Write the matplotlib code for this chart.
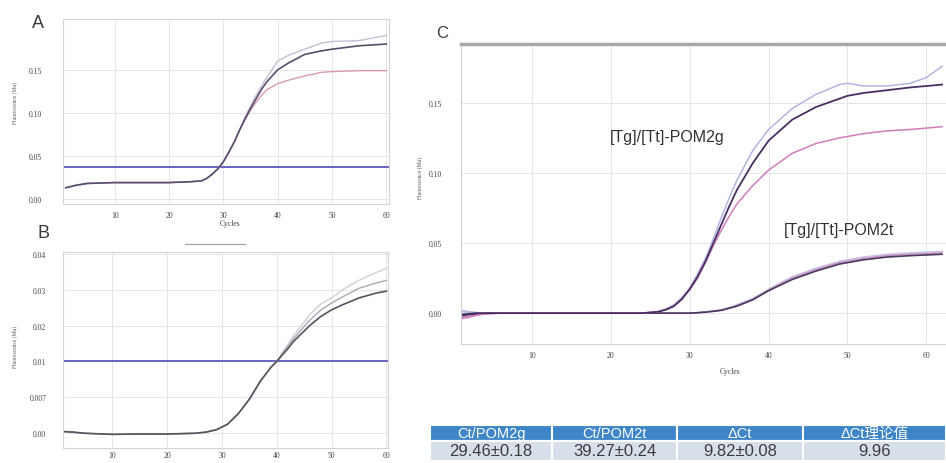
import matplotlib
matplotlib.use('Agg')
import matplotlib.pyplot as plt
from matplotlib.lines import Line2D

# ---- panel A : [Tg]/[Tt]-POM2g
a_cycles = [1, 3, 5, 10, 15, 20, 24, 26, 27, 28, 29, 30, 31, 32, 33, 34, 35, 36, 37, 38,
            40, 42, 45, 48, 50, 55, 60]
a_dark = [0.013, 0.016, 0.018, 0.019, 0.019, 0.019, 0.020, 0.021, 0.024, 0.029, 0.035,
          0.043, 0.054, 0.066, 0.080, 0.093, 0.105, 0.116, 0.127, 0.136,
          0.150, 0.158, 0.168, 0.172, 0.174, 0.178, 0.180]
a_light = [0.013, 0.016, 0.018, 0.019, 0.019, 0.019, 0.020, 0.021, 0.024, 0.029, 0.035,
           0.043, 0.054, 0.066, 0.080, 0.095, 0.108, 0.120, 0.131, 0.141,
           0.160, 0.167, 0.174, 0.181, 0.183, 0.184, 0.190]
a_pink = [0.013, 0.016, 0.018, 0.019, 0.019, 0.019, 0.020, 0.021, 0.024, 0.029, 0.035,
          0.043, 0.054, 0.066, 0.080, 0.092, 0.103, 0.112, 0.120, 0.127,
          0.134, 0.138, 0.143, 0.147, 0.148, 0.149, 0.149]
a_threshold = 0.037
a_yticks = [0.00, 0.05, 0.10, 0.15]
a_ylabels = ['0.00', '0.05', '0.10', '0.15']

# ---- panel B : [Tg]/[Tt]-POM2t
b_cycles = [1, 3, 5, 10, 15, 20, 25, 27, 29, 31, 33, 35, 36, 37, 38, 39, 40, 41, 42, 43,
            44, 46, 48, 50, 52, 55, 58, 60]
b_dark = [0.0005, 0.0003, 0.0, -0.0003, -0.0002, -0.0002, 0.0, 0.0003, 0.0010, 0.0025,
          0.0055, 0.0095, 0.0120, 0.0145, 0.0165, 0.0185, 0.0200, 0.0218, 0.0235, 0.0255,
          0.0270, 0.0300, 0.0325, 0.0344, 0.0358, 0.0377, 0.0390, 0.0396]
b_mid = [0.0005, 0.0003, 0.0, -0.0003, -0.0002, -0.0002, 0.0, 0.0003, 0.0010, 0.0025,
         0.0055, 0.0095, 0.0120, 0.0145, 0.0165, 0.0185, 0.0200, 0.0222, 0.0242, 0.0262,
         0.0280, 0.0315, 0.0343, 0.0363, 0.0380, 0.0404, 0.0418, 0.0426]
b_light = [0.0005, 0.0003, 0.0, -0.0003, -0.0002, -0.0002, 0.0, 0.0003, 0.0010, 0.0025,
           0.0055, 0.0095, 0.0120, 0.0145, 0.0165, 0.0185, 0.0200, 0.0225, 0.0247, 0.0270,
           0.0290, 0.0330, 0.0360, 0.0377, 0.0400, 0.0426, 0.0447, 0.0459]
b_threshold = 0.02
b_yticks = [0.00, 0.01, 0.02, 0.03, 0.04, 0.05]
b_ylabels = ['0.00', '0.007', '0.01', '0.02', '0.03', '0.04']

# ---- panel C : both primer sets
c_cycles = [1, 2, 3, 4, 6, 10, 15, 20, 24, 26, 27, 28, 29, 30, 31, 32, 33, 34, 35, 36,
            38, 40, 43, 46, 49, 50, 52, 55, 58, 60, 62]
g_dark = [-0.001, -0.0005, 0.0, 0.0, 0.0, 0.0, 0.0, 0.0, 0.0, 0.001, 0.0025, 0.005, 0.010,
          0.017, 0.026, 0.037, 0.050, 0.063, 0.076, 0.088,
          0.107, 0.123, 0.138, 0.147, 0.153, 0.155, 0.157, 0.159, 0.161, 0.162, 0.163]
g_light = [0.002, 0.001, 0.0005, 0.0, 0.0, 0.0, 0.0, 0.0, 0.0, 0.001, 0.003, 0.006, 0.011,
           0.018, 0.028, 0.039, 0.053, 0.068, 0.082, 0.095,
           0.116, 0.131, 0.146, 0.156, 0.163, 0.164, 0.162, 0.162, 0.164, 0.168, 0.176]
g_pink = [-0.004, -0.003, -0.0015, -0.0007, 0.0, 0.0, 0.0, 0.0, 0.0, 0.001, 0.0025, 0.005,
          0.010, 0.017, 0.025, 0.036, 0.048, 0.059, 0.069, 0.078,
          0.091, 0.102, 0.114, 0.121, 0.125, 0.126, 0.128, 0.130, 0.131, 0.132, 0.133]
t_dark = [-0.002, -0.001, -0.0005, 0.0, 0.0, 0.0, 0.0, 0.0, 0.0, 0.0, 0.0, 0.0, 0.0,
          0.0, 0.0003, 0.0007, 0.0013, 0.002, 0.0035, 0.005,
          0.0095, 0.016, 0.024, 0.030, 0.035, 0.036, 0.038, 0.040, 0.041, 0.0415, 0.042]
t_light = [0.001, 0.0005, 0.0, 0.0, 0.0, 0.0, 0.0, 0.0, 0.0, 0.0, 0.0, 0.0, 0.0,
           0.0, 0.0004, 0.0009, 0.0016, 0.0025, 0.004, 0.006,
           0.0105, 0.017, 0.026, 0.032, 0.037, 0.038, 0.040, 0.042, 0.043, 0.0435, 0.044]
t_pink = [-0.003, -0.002, -0.001, -0.0003, 0.0, 0.0, 0.0, 0.0, 0.0, 0.0, 0.0, 0.0, 0.0,
          0.0, 0.0003, 0.0008, 0.0014, 0.0022, 0.0037, 0.0055,
          0.010, 0.0165, 0.025, 0.031, 0.036, 0.037, 0.039, 0.041, 0.042, 0.0425, 0.043]
c_yticks = [0.00, 0.05, 0.10, 0.15]
c_ylabels = ['0.00', '0.05', '0.10', '0.15']
x_ticks = [10, 20, 30, 40, 50, 60]

# ---- Ct table
table_header = ['Ct/POM2g', 'Ct/POM2t', 'ΔCt', 'ΔCt理论值']
table_row = ['29.46±0.18', '39.27±0.24', '9.82±0.08', '9.96']
table_col_widths = [122, 125, 126, 143]

TICK_FONT = dict(family='Liberation Serif', size=5.5, color='#444444')
SANS = ['Liberation Sans', 'Noto Sans CJK SC', 'DejaVu Sans']


def style_axes(ax, yticks, ylabels, xlim, ylim, ypad=13, xpad=5):
  ax.set_xlim(*xlim)
  ax.set_ylim(*ylim)
  ax.set_xticks(x_ticks)
  ax.set_xticklabels([str(t) for t in x_ticks], fontdict=TICK_FONT)
  ax.set_yticks(yticks)
  ax.set_yticklabels(ylabels, fontdict=TICK_FONT)
  ax.tick_params(length=0)
  ax.tick_params(axis='y', pad=ypad)
  ax.tick_params(axis='x', pad=xpad)
  ax.grid(True, color='#e6e6ea', lw=0.7)
  ax.set_axisbelow(True)
  for s in ax.spines.values():
    s.set_color('#d4d4d8')
    s.set_linewidth(0.8)


def main():
  fig = plt.figure(figsize=(9.46, 4.64), dpi=100)

  # panel A
  ax_a = fig.add_axes([0.0666, 0.558, 0.3446, 0.3987])
  ax_a.axhline(a_threshold, color='#6464c0', lw=1.4)
  ax_a.plot(a_cycles, a_pink, color='#d99ab2', lw=1.0)
  ax_a.plot(a_cycles, a_light, color='#c2bfd2', lw=1.0)
  ax_a.plot(a_cycles, a_dark, color='#5a4c6c', lw=1.2)
  style_axes(ax_a, a_yticks, a_ylabels, (0.5, 60.5), (-0.006, 0.209), ypad=15)

  # panel B
  ax_b = fig.add_axes([0.0666, 1 - 449 / 464, 0.3436, 196 / 464])
  ax_b.axhline(b_threshold, color='#6464c0', lw=1.4)
  ax_b.plot(b_cycles, b_light, color='#cfcfd6', lw=1.0)
  ax_b.plot(b_cycles, b_mid, color='#a9a9b4', lw=1.0)
  ax_b.plot(b_cycles, b_dark, color='#55555f', lw=1.2)
  style_axes(ax_b, b_yticks, b_ylabels, (1, 60.3), (-0.0041, 0.0505), ypad=12, xpad=2)

  # panel C
  ax_c = fig.add_axes([0.4873, 0.2565, 0.5127, 0.6466])
  ax_c.plot(c_cycles, t_light, color='#c4c4e4', lw=1.1)
  ax_c.plot(c_cycles, t_pink, color='#c890c0', lw=1.1)
  ax_c.plot(c_cycles, t_dark, color='#4a3a5e', lw=1.2)
  ax_c.plot(c_cycles, g_light, color='#b4b4e0', lw=1.1)
  ax_c.plot(c_cycles, g_pink, color='#d27cbc', lw=1.1)
  ax_c.plot(c_cycles, g_dark, color='#4a2f62', lw=1.3)
  style_axes(ax_c, c_yticks, c_ylabels, (1, 62.5), (-0.022, 0.192), ypad=14)
  ax_c.spines['top'].set_color('#a8a8a8')
  ax_c.spines['top'].set_linewidth(2.5)
  ax_c.spines['right'].set_visible(False)
  ax_c.text(27.2, 0.126, '[Tg]/[Tt]-POM2g', fontsize=11.5, family=SANS,
            color='#333333', ha='center', va='center')
  ax_c.text(49.0, 0.060, '[Tg]/[Tt]-POM2t', fontsize=11.5, family=SANS,
            color='#333333', ha='center', va='center')

  # axis titles, tiny like the instrument export
  fig.text(15 / 946, 1 - 103 / 464, 'Fluorescence (Mu)', rotation=90, fontsize=4,
           family='Liberation Serif', color='#555555', ha='center', va='center')
  fig.text(15 / 946, 1 - 347 / 464, 'Fluorescence (Mu)', rotation=90, fontsize=4,
           family='Liberation Serif', color='#555555', ha='center', va='center')
  fig.text(420 / 946, 1 - 178 / 464, 'Fluorescence (Mu)', rotation=90, fontsize=4,
           family='Liberation Serif', color='#555555', ha='center', va='center')
  fig.text(230 / 946, 1 - 224 / 464, 'Cycles', fontsize=5.5, family='Liberation Serif',
           color='#444444', ha='center', va='center')
  fig.text(730 / 946, 1 - 372 / 464, 'Cycles', fontsize=5.5, family='Liberation Serif',
           color='#444444', ha='center', va='center')
  fig.add_artist(Line2D([185 / 946, 245 / 946], [1 - 245 / 464, 1 - 245 / 464],
                        color='#a0a0b0', lw=0.8))

  # panel letters
  fig.text(38 / 946, 1 - 23 / 464, 'A', fontsize=13, family=SANS, color='#3a3a3a',
           ha='center', va='center')
  fig.text(43 / 946, 1 - 233 / 464, 'B', fontsize=13, family=SANS, color='#3a3a3a',
           ha='center', va='center')
  fig.text(442 / 946, 1 - 33 / 464, 'C', fontsize=12, family=SANS, color='#3a3a3a',
           ha='center', va='center')

  # Ct table
  ax_t = fig.add_axes([430 / 946, 1 - 462 / 464, 516 / 946, 36 / 464])
  ax_t.axis('off')
  total = float(sum(table_col_widths))
  tab = ax_t.table(cellText=[table_row], colLabels=table_header, bbox=[0, 0, 1, 1],
                   cellLoc='center', colWidths=[w / total for w in table_col_widths])
  tab.auto_set_font_size(False)
  for (r, c), cell in tab.get_celld().items():
    cell.set_edgecolor('white')
    cell.set_linewidth(1.5)
    txt = cell.get_text()
    txt.set_fontfamily(SANS)
    if r == 0:
      cell.set_height(16)
      cell.set_facecolor('#3f86c8')
      txt.set_color('white')
      txt.set_fontsize(10.5)
    else:
      cell.set_height(20)
      cell.set_facecolor('#d7dfea')
      txt.set_color('#3c3c3c')
      txt.set_fontsize(12)

  fig.savefig('out.png', dpi=100)


if __name__ == '__main__':
  main()
